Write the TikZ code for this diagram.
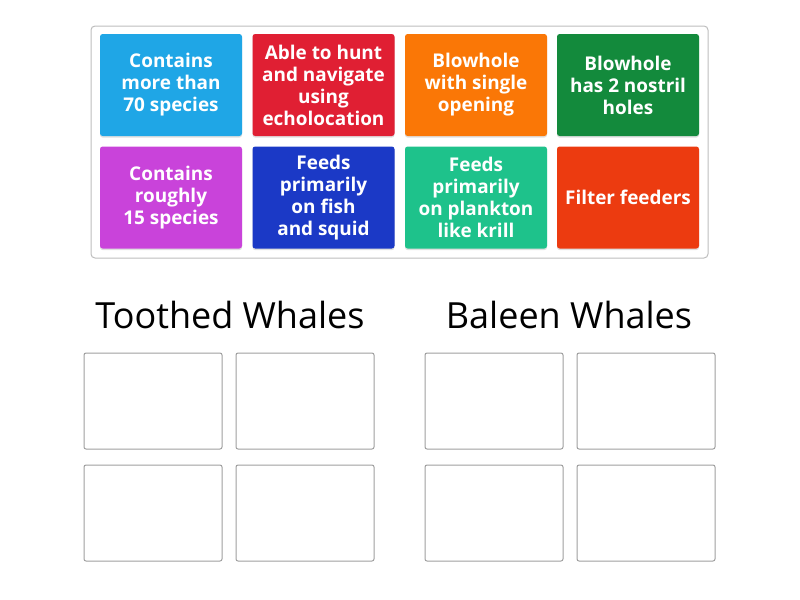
\documentclass[tikz,border=0pt]{standalone}
\usepackage{fontspec}
\setmainfont{Open Sans}
\usetikzlibrary{shadows}
\definecolor{cardblue}{HTML}{1FA6E6}
\definecolor{cardred}{HTML}{E01F33}
\definecolor{cardorange}{HTML}{FA7706}
\definecolor{cardgreen}{HTML}{138A3C}
\definecolor{cardpink}{HTML}{C943DA}
\definecolor{cardnavy}{HTML}{1B39C6}
\definecolor{cardteal}{HTML}{1EC28B}
\definecolor{cardrust}{HTML}{EC3B10}
\definecolor{frame}{HTML}{BDBDBD}
\definecolor{slot}{HTML}{9E9E9E}
\begin{document}
\begin{tikzpicture}[x=0.75pt,y=-0.75pt,
    card/.style={rounded corners=2pt,minimum width=106.5pt,minimum height=76.5pt,
      inner sep=0pt,align=center,text=white,font=\fontsize{14.2}{16.5}\selectfont\bfseries,
      drop shadow={shadow xshift=0pt,shadow yshift=-1.2pt,opacity=0.25}},
    slotbox/.style={draw=slot,line width=0.75pt,rounded corners=1.5pt,
      minimum width=103.5pt,minimum height=72pt,inner sep=0pt},
    heading/.style={font=\fontsize{27}{32}\selectfont,text=black}]
      \useasboundingbox (0,0) rectangle (800,600);
      \draw[frame,line width=0.75pt,rounded corners=3pt] (91,26) rectangle (708,258);
      % cards
      \draw
        (171,85) node[card,fill=cardblue] (c1){Contains\\more than\\70 species}
        (323.5,85) node[card,fill=cardred] (c2){Able to hunt\\and navigate\\using\\echolocation}
        (476,85) node[card,fill=cardorange] (c3){Blowhole\\with single\\opening}
        (628,85) node[card,fill=cardgreen] (c4){Blowhole\\has 2 nostril\\holes}
        (171,197.5) node[card,fill=cardpink] (c5){Contains\\roughly\\15 species}
        (323.5,197.5) node[card,fill=cardnavy] (c6){Feeds\\primarily\\on fish\\and squid}
        (476,197.5) node[card,fill=cardteal] (c7){Feeds\\primarily\\on plankton\\like krill}
        (628,197.5) node[card,fill=cardrust] (c8){Filter feeders};
      % groups
      \node[heading] (toothed) at (230,315) {Toothed Whales};
      \node[heading] (baleen) at (569,315) {Baleen Whales};
      \draw
        (153,401) node[slotbox] (t1){}
        (305,401) node[slotbox] (t2){}
        (153,513) node[slotbox] (t3){}
        (305,513) node[slotbox] (t4){}
        (494,401) node[slotbox] (b1){}
        (646,401) node[slotbox] (b2){}
        (494,513) node[slotbox] (b3){}
        (646,513) node[slotbox] (b4){};
    \end{tikzpicture}
\end{document}
